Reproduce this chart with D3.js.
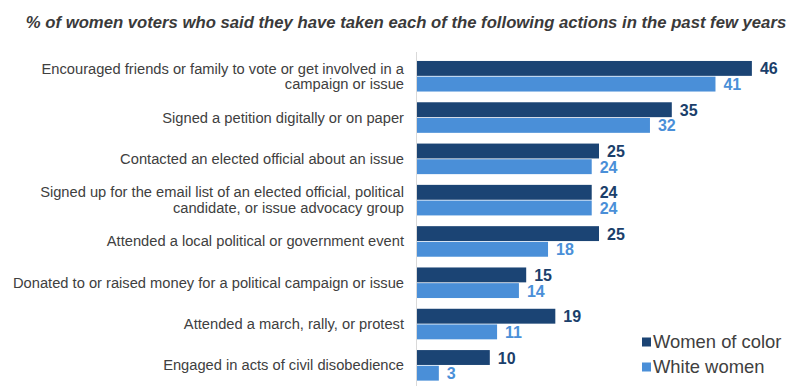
<!DOCTYPE html>
<html>
<head>
<meta charset="utf-8">
<script src="https://cdn.jsdelivr.net/npm/d3@7"></script>
<style>
  body { margin: 0; background: #fff; }
  text { font-family: "Liberation Sans", Arial, sans-serif; }
</style>
</head>
<body>
<div id="chart"></div>
<script>
  var svgWidth = 810;
  var svgHeight = 390;

  // chart data
  var actions = [
    ["Encouraged friends or family to vote or get involved in a", "campaign or issue"],
    ["Signed a petition digitally or on paper"],
    ["Contacted an elected official about an issue"],
    ["Signed up for the email list of an elected official, political", "candidate, or issue advocacy group"],
    ["Attended a local political or government event"],
    ["Donated to or raised money for a political campaign or issue"],
    ["Attended a march, rally, or protest"],
    ["Engaged in acts of civil disobedience"]
  ];
  var seriesNames = ["Women of color", "White women"];
  var womenOfColor = [46, 35, 25, 24, 25, 15, 19, 10];
  var whiteWomen = [41, 32, 24, 24, 18, 14, 11, 3];

  var barColors = ["#1b4474", "#4a8fd8"];
  var labelColors = ["#1b3f6b", "#4a8fd8"];

  var svg = d3.select("#chart")
    .append("svg")
    .attr("width", svgWidth)
    .attr("height", svgHeight);

  // title
  svg.append("text")
    .attr("x", 406)
    .attr("y", 28)
    .attr("text-anchor", "middle")
    .style("font-size", "16.7px")
    .style("font-weight", "bold")
    .style("font-style", "italic")
    .style("fill", "#3a3a3a")
    .text("% of women voters who said they have taken each of the following actions in the past few years");

  var idx = d3.range(actions.length);

  var xScale = d3.scaleLinear()
    .domain([0, 50])
    .range([417, 781]);

  var yScale = d3.scaleBand()
    .domain(idx)
    .range([55.6, 386])
    .paddingInner(0.26)
    .paddingOuter(0.13);

  var ySub = d3.scaleBand()
    .domain([0, 1])
    .range([0, yScale.bandwidth()])
    .paddingInner(0.05);

  var rows = [];
  idx.forEach(function(i) {
    rows.push({ i: i, s: 0, v: womenOfColor[i] });
    rows.push({ i: i, s: 1, v: whiteWomen[i] });
  });

  // bars
  svg.selectAll("rect.bar")
    .data(rows)
    .enter()
    .append("rect")
    .attr("class", "bar")
    .attr("x", xScale(0))
    .attr("y", d => yScale(d.i) + ySub(d.s))
    .attr("width", d => xScale(d.v) - xScale(0))
    .attr("height", ySub.bandwidth())
    .attr("fill", d => barColors[d.s]);

  // value labels
  svg.selectAll("text.val")
    .data(rows)
    .enter()
    .append("text")
    .attr("class", "val")
    .attr("x", d => xScale(d.v) + 8)
    .attr("y", d => yScale(d.i) + ySub(d.s) + ySub.bandwidth() / 2 + 6)
    .style("font-size", "16px")
    .style("font-weight", "bold")
    .style("fill", d => labelColors[d.s])
    .text(d => d.v);

  // axis line
  svg.append("line")
    .attr("x1", 416.5).attr("x2", 416.5)
    .attr("y1", 52).attr("y2", 386)
    .attr("stroke", "#d9d9d9")
    .attr("stroke-width", 1);

  // category labels
  var catGroups = svg.selectAll("text.cat")
    .data(idx)
    .enter()
    .append("text")
    .attr("class", "cat")
    .attr("text-anchor", "end")
    .style("font-size", "14.7px")
    .style("fill", "#404040");

  catGroups.each(function(i) {
    var lines = actions[i];
    var mid = yScale(i) + yScale.bandwidth() / 2;
    var lh = 15.5;
    var top = mid - (lines.length - 1) * lh / 2 + 5;
    d3.select(this).selectAll("tspan")
      .data(lines)
      .enter()
      .append("tspan")
      .attr("x", 404)
      .attr("y", (d, k) => top + k * lh)
      .text(d => d);
  });

  // legend
  var legend = svg.selectAll("g.legend")
    .data(seriesNames)
    .enter()
    .append("g")
    .attr("class", "legend")
    .attr("transform", (d, k) => `translate(642, ${342 + k * 25})`);

  legend.append("rect")
    .attr("x", 0)
    .attr("y", -4.5)
    .attr("width", 9)
    .attr("height", 9)
    .attr("fill", (d, k) => barColors[k]);

  legend.append("text")
    .attr("x", 11)
    .attr("y", 5.5)
    .style("font-size", "18.4px")
    .style("fill", "#404040")
    .text(d => d);
</script>
</body>
</html>
